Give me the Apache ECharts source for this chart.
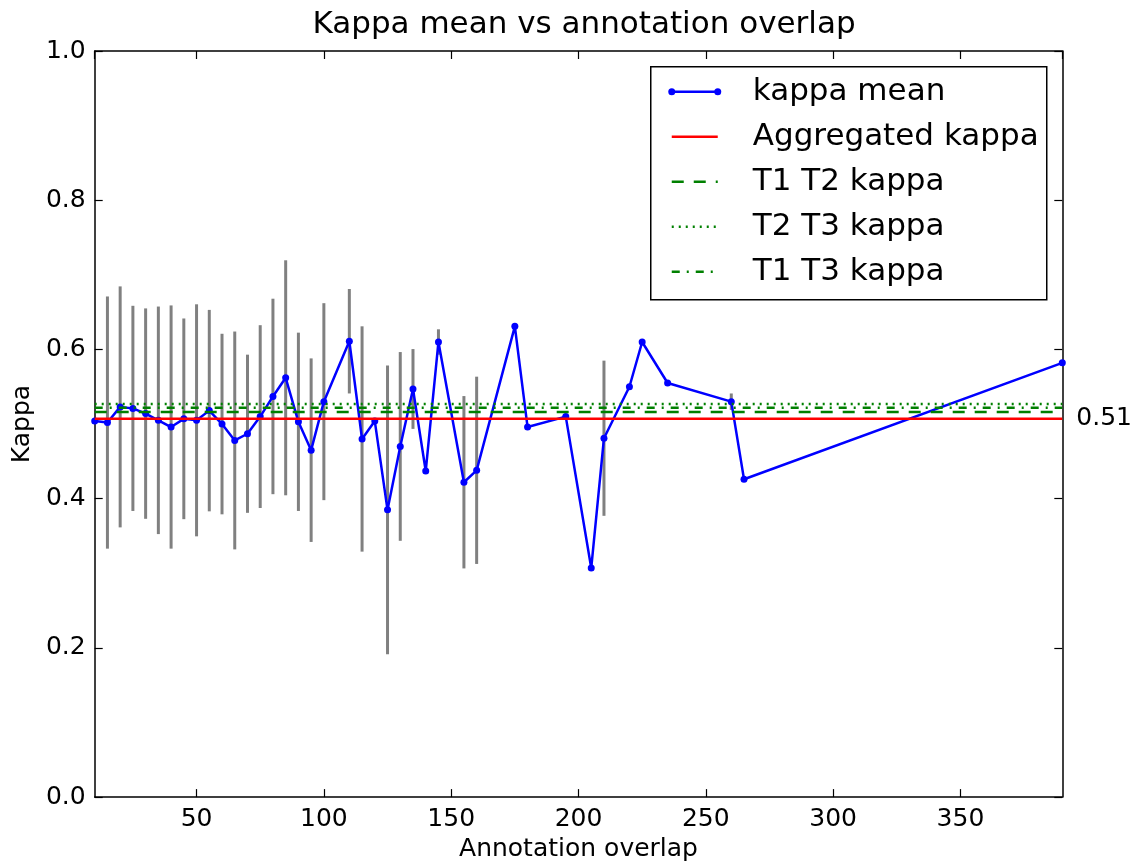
<!DOCTYPE html>
<html>
<head>
<meta charset="utf-8">
<script src="https://cdn.jsdelivr.net/npm/echarts@6/dist/echarts.min.js"></script>
<style>html,body{margin:0;padding:0;background:#fff;}#c{width:1142px;height:867px;}</style>
</head>
<body>
<div id="c"></div>
<script>
// ---- data ----
const overlap   = [10, 15, 20, 25, 30, 35, 40, 45, 50, 55, 60, 65, 70, 75, 80, 85, 90, 95, 100, 110, 115, 120, 125, 130, 135, 140, 145, 155, 160, 175, 180, 195, 205, 210, 220, 225, 235, 260, 265, 390];
const kappaMean = [0.504, 0.502, 0.523, 0.521, 0.514, 0.505, 0.496, 0.507, 0.505, 0.518, 0.500, 0.478, 0.487, 0.510, 0.537, 0.562, 0.503, 0.465, 0.530, 0.611, 0.480, 0.504, 0.385, 0.470, 0.547, 0.437, 0.610, 0.422, 0.438, 0.631, 0.496, 0.510, 0.307, 0.481, 0.550, 0.610, 0.555, 0.530, 0.426, 0.582];
const kappaStd  = [null, 0.169, 0.1615, 0.1375, 0.141, 0.1525, 0.163, 0.1345, 0.1555, 0.135, 0.121, 0.146, 0.106, 0.1225, 0.131, 0.1575, 0.1195, 0.123, 0.132, 0.070, 0.151, null, 0.1935, 0.1265, 0.0535, null, 0.017, 0.1155, 0.1255, null, null, null, null, 0.104, null, null, null, 0.011, null, null];
const aggregatedKappa = 0.507;
const t1t2Kappa = 0.516;
const t2t3Kappa = 0.527;
const t1t3Kappa = 0.522;
const xRange = [10, 390];
const yRange = [0, 1];
const aggregatedLabel = '0.51';
const legendNames = ['kappa mean', 'Aggregated kappa', 'T1 T2 kappa', 'T2 T3 kappa', 'T1 T3 kappa'];

// ---- styles ----
const FONT = 'DejaVu Sans';
const BLUE = '#0000ff', RED = '#ff0000', GREEN = '#008000';
const DASHED = [12, 10], DOTTED = [2, 5], DASHDOT = [8, 7, 2, 7];

// ---- build series data ----
const meanData = overlap.map((x, i) => [x, kappaMean[i]]);
const errData = [];
overlap.forEach((x, i) => {
  if (kappaStd[i] != null) errData.push([x, kappaMean[i] - kappaStd[i], kappaMean[i] + kappaStd[i]]);
});
const hline = v => [[xRange[0], v], [xRange[1], v]];

// ---- hand-drawn legend (matplotlib style) ----
const legStyles = [
  {stroke: BLUE, dash: null, dots: true},
  {stroke: RED, dash: null},
  {stroke: GREEN, dash: DASHED},
  {stroke: GREEN, dash: DOTTED},
  {stroke: GREEN, dash: DASHDOT}
];
const legend = {
  type: 'group', left: 650, top: 66, z: 100,
  children: [{
    type: 'rect', shape: {x: 0, y: 0, width: 396, height: 233},
    style: {fill: '#fff', stroke: '#000', lineWidth: 1.5}
  }]
};
legendNames.forEach((name, i) => {
  const cy = 25 + i * 45;
  const st = legStyles[i];
  legend.children.push({
    type: 'line', shape: {x1: 21, y1: cy, x2: 67, y2: cy},
    style: {stroke: st.stroke, lineWidth: 2.5, lineDash: st.dash || null}
  });
  if (st.dots) {
    [21, 67].forEach(cx => legend.children.push({
      type: 'circle', shape: {cx: cx, cy: cy, r: 3.5}, style: {fill: st.stroke}
    }));
  }
  legend.children.push({
    type: 'text', x: 102, y: cy,
    style: {text: name, fontFamily: FONT, fontSize: 31, fill: '#000', verticalAlign: 'middle', align: 'left'}
  });
});

const chart = echarts.init(document.getElementById('c'), null, {renderer: 'canvas'});
const tickStyle = {show: true, inside: true, length: 8, lineStyle: {color: '#000', width: 1.2}};
const axisLine = {show: true, onZero: false, lineStyle: {color: '#000', width: 1.5}};

chart.setOption({
  animation: false,
  backgroundColor: '#fff',
  textStyle: {fontFamily: FONT},
  title: {
    text: 'Kappa mean vs annotation overlap',
    left: 579, textAlign: 'center', top: 4,
    textStyle: {fontFamily: FONT, fontSize: 31, fontWeight: 'normal', color: '#000'}
  },
  grid: {left: 94.7, right: 79.7, top: 51, bottom: 68, containLabel: false},
  graphic: [legend],
  xAxis: [{
    type: 'value', min: xRange[0], max: xRange[1], splitNumber: 7,
    position: 'bottom',
    name: 'Annotation overlap', nameLocation: 'middle', nameGap: 36,
    nameTextStyle: {fontFamily: FONT, fontSize: 25, color: '#000'},
    axisLine: axisLine, axisTick: tickStyle, splitLine: {show: false},
    axisLabel: {fontFamily: FONT, fontSize: 25, color: '#000', margin: 10, showMinLabel: false, showMaxLabel: false}
  }, {
    type: 'value', min: xRange[0], max: xRange[1], splitNumber: 7,
    position: 'top',
    axisLine: axisLine, axisTick: tickStyle, splitLine: {show: false},
    axisLabel: {show: false}
  }],
  yAxis: [{
    type: 'value', min: yRange[0], max: yRange[1], interval: 0.2,
    position: 'left',
    name: 'Kappa', nameLocation: 'middle', nameGap: 60, nameRotate: 90,
    nameTextStyle: {fontFamily: FONT, fontSize: 25, color: '#000'},
    axisLine: axisLine, axisTick: tickStyle, splitLine: {show: false},
    axisLabel: {fontFamily: FONT, fontSize: 25, color: '#000', margin: 9, formatter: v => v.toFixed(1)}
  }, {
    type: 'value', min: yRange[0], max: yRange[1], interval: 0.2,
    position: 'right',
    axisLine: axisLine, axisTick: tickStyle, splitLine: {show: false},
    axisLabel: {show: false}
  }],
  series: [
    {
      name: 'errorbars', type: 'custom', xAxisIndex: 0, yAxisIndex: 0, z: 1,
      data: errData,
      encode: {x: 0, y: [1, 2]},
      renderItem: function (params, api) {
        const x = api.value(0);
        const p1 = api.coord([x, api.value(1)]);
        const p2 = api.coord([x, api.value(2)]);
        return {type: 'line', shape: {x1: p1[0], y1: p1[1], x2: p2[0], y2: p2[1]},
                style: {stroke: '#808080', lineWidth: 3}};
      },
      silent: true
    },
    {
      name: legendNames[0], type: 'line', z: 3, data: meanData,
      symbol: 'circle', symbolSize: 7, showAllSymbol: true,
      lineStyle: {color: BLUE, width: 2.5}, itemStyle: {color: BLUE}
    },
    {
      name: legendNames[1], type: 'line', z: 4, data: hline(aggregatedKappa), symbol: 'none',
      lineStyle: {color: RED, width: 2.5}, itemStyle: {color: RED},
      endLabel: {show: true, formatter: aggregatedLabel, fontFamily: FONT, fontSize: 25, color: '#000', distance: 14}
    },
    {
      name: legendNames[2], type: 'line', z: 4, data: hline(t1t2Kappa), symbol: 'none',
      lineStyle: {color: GREEN, width: 2.5, type: DASHED}, itemStyle: {color: GREEN}
    },
    {
      name: legendNames[3], type: 'line', z: 4, data: hline(t2t3Kappa), symbol: 'none',
      lineStyle: {color: GREEN, width: 2.5, type: DOTTED}, itemStyle: {color: GREEN}
    },
    {
      name: legendNames[4], type: 'line', z: 4, data: hline(t1t3Kappa), symbol: 'none',
      lineStyle: {color: GREEN, width: 2.5, type: DASHDOT}, itemStyle: {color: GREEN}
    }
  ]
});
</script>
</body>
</html>
